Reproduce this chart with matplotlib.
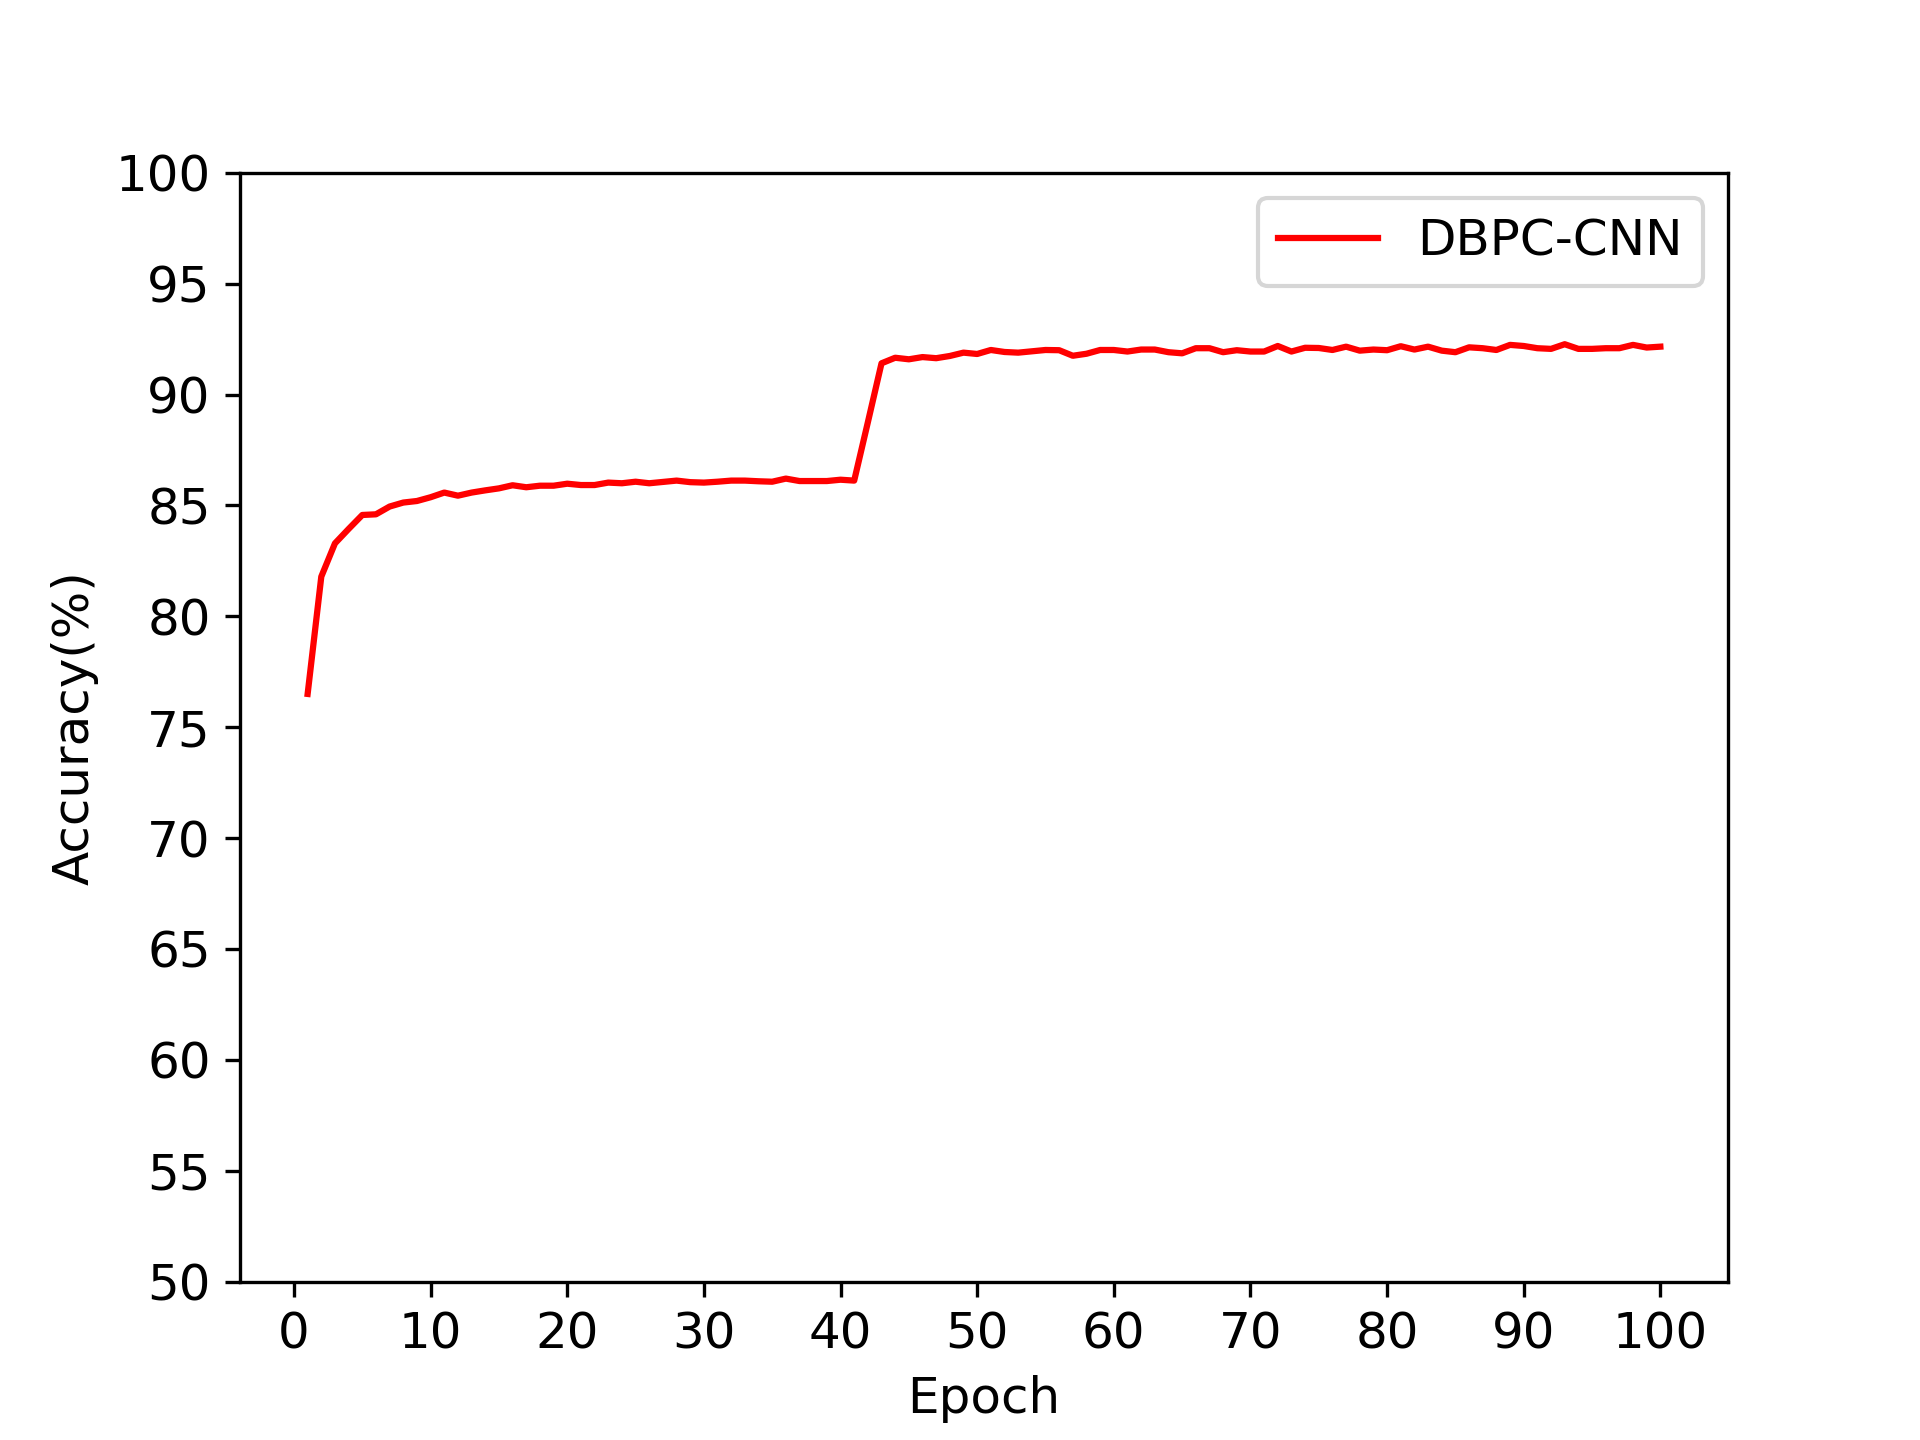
import matplotlib
matplotlib.use("Agg")
import matplotlib.pyplot as plt
import numpy as np

epochs = list(range(1, 101))
accuracy = [
    76.50, 81.79, 83.29, 83.94, 84.57, 84.60, 84.95, 85.13, 85.20, 85.37,
    85.58, 85.44, 85.58, 85.68, 85.77, 85.91, 85.82, 85.89, 85.89, 85.98,
    85.92, 85.92, 86.03, 86.00, 86.07, 86.00, 86.06, 86.12, 86.05, 86.03,
    86.07, 86.12, 86.12, 86.09, 86.07, 86.21, 86.10, 86.10, 86.10, 86.16,
    86.12, 88.75, 91.41, 91.66, 91.59, 91.69, 91.64, 91.74, 91.89, 91.83,
    92.01, 91.92, 91.89, 91.95, 92.01, 92.00, 91.75, 91.84, 92.01, 92.01,
    91.94, 92.03, 92.03, 91.91, 91.86, 92.09, 92.09, 91.91, 92.00, 91.94,
    91.94, 92.19, 91.94, 92.11, 92.10, 92.01, 92.16, 91.98, 92.03, 92.00,
    92.18, 92.03, 92.16, 91.98, 91.91, 92.13, 92.09, 92.01, 92.24, 92.19,
    92.09, 92.06, 92.27, 92.06, 92.06, 92.09, 92.09, 92.24, 92.12, 92.16,
]
series_label = "DBPC-CNN"
x_label = "Epoch"
y_label = "Accuracy(%)"

plt.rcParams['font.size'] = 12
fig, ax = plt.subplots(figsize=(6.4, 4.8), dpi=300)
ax.plot(epochs, accuracy, color='red', label=series_label)
ax.set_ylim(50, 100)
ax.set_xticks(np.arange(0, 101, 10))
ax.set_yticks(np.arange(50, 101, 5))
ax.set_xlabel(x_label)
ax.set_ylabel(y_label)
ax.legend(loc='upper right')
fig.savefig("out.png", dpi=300)
